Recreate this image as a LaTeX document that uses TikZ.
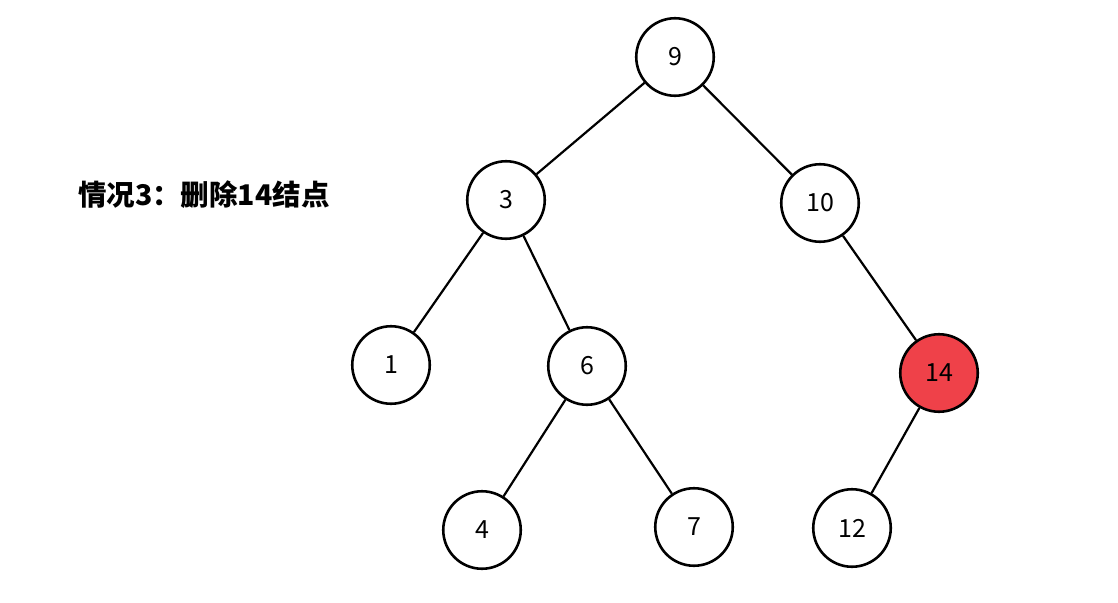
\documentclass[tikz,border=0pt]{standalone}
\usepackage{fontspec}
\setmainfont{Noto Sans CJK SC}
\usetikzlibrary{positioning}
\definecolor{delred}{RGB}{239,65,73}

\begin{document}
\begin{tikzpicture}[x=1pt,y=-1pt,line width=2.2pt,
	every node/.style={font=\fontsize{25}{28}\selectfont},
	tnode/.style={circle,draw,line width=2.6pt,minimum size=77.5pt,inner sep=0pt}]
	\useasboundingbox (0,0) rectangle (1118,602);
	\node[tnode] (n9) at (675,57) {9};
	\node[tnode] (n3) at (506,200) {3};
	\node[tnode] (n10) at (820,203) {10};
	\node[tnode] (n1) at (391,365) {1};
	\node[tnode] (n6) at (587,366) {6};
	\node[tnode,fill=delred] (n14) at (939,373) {14};
	\node[tnode] (n4) at (482,530) {4};
	\node[tnode] (n7) at (694,527) {7};
	\node[tnode] (n12) at (852,528) {12};
	\path[-]
	(n9) edge (n3)
	(n9) edge (n10)
	(n3) edge (n1)
	(n3) edge (n6)
	(n6) edge (n4)
	(n6) edge (n7)
	(n10) edge (n14)
	(n14) edge (n12)
	;
	\node[font=\fontsize{28.5}{32}\selectfont\bfseries,anchor=west,inner sep=0pt] (title) at (77,195) {情况3：删除14结点};
\end{tikzpicture}
\end{document}
